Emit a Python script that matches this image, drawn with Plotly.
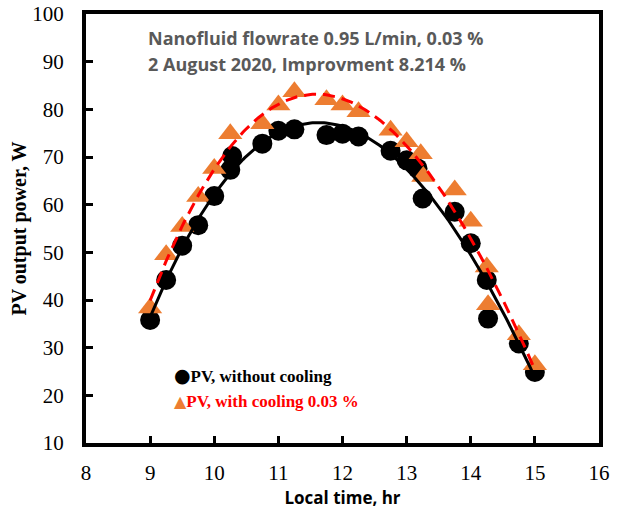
import numpy as np
import plotly.graph_objects as go

# Without cooling (black circles)
t_nc = [9.0, 9.25, 9.5, 9.75, 10.0, 10.25, 10.28, 10.75, 11.0, 11.25, 11.75, 12.0, 12.25,
        12.75, 13.0, 13.17, 13.25, 13.75, 14.0, 14.25, 14.27, 14.75, 15.0]
p_nc = [35.8, 44.2, 51.4, 55.7, 61.8, 67.3, 70.2, 72.8, 75.5, 75.8, 74.6, 74.9, 74.3,
        71.3, 69.3, 67.6, 61.3, 58.5, 51.9, 44.2, 36.1, 30.9, 24.9]

# With cooling 0.03 % (orange triangles)
t_wc = [9.0, 9.25, 9.5, 9.75, 10.0, 10.25, 10.75, 11.0, 11.25, 11.75, 12.0, 12.25,
        12.75, 13.0, 13.22, 13.26, 13.75, 14.0, 14.25, 14.27, 14.75, 15.0]
p_wc = [38.3, 49.5, 55.4, 61.7, 67.6, 74.9, 77.0, 80.9, 83.7, 82.0, 80.9, 79.5,
        75.6, 73.2, 70.7, 65.9, 63.1, 56.5, 46.9, 39.0, 32.7, 26.4]

x_ticks = [8, 9, 10, 11, 12, 13, 14, 15, 16]
y_ticks = [10, 20, 30, 40, 50, 60, 70, 80, 90, 100]

# polynomial trendlines computed from the data
xf = np.linspace(9, 15, 200)
fit_nc = np.polyval(np.polyfit(t_nc, p_nc, 3), xf)
fit_wc = np.polyval(np.polyfit(t_wc, p_wc, 3), xf)

fig = go.Figure()
fig.add_trace(go.Scatter(x=t_nc, y=p_nc, mode="markers",
                         marker=dict(symbol="circle", size=20, color="black"),
                         name="PV, without cooling", showlegend=False))
fig.add_trace(go.Scatter(x=t_wc, y=p_wc, mode="markers",
                         marker=dict(symbol="triangle-up", size=21, color="#ED7D31"),
                         name="PV, with cooling 0.03 %", showlegend=False))
fig.add_trace(go.Scatter(x=xf, y=fit_nc, mode="lines", line=dict(color="black", width=3),
                         showlegend=False, hoverinfo="skip"))
fig.add_trace(go.Scatter(x=xf, y=fit_wc, mode="lines",
                         line=dict(color="#FF0000", width=3, dash="12px,7px"),
                         showlegend=False, hoverinfo="skip"))

note_font = dict(family="Open Sans", size=18, color="#595959", weight="bold")
fig.add_annotation(x=0.117, y=0.944, xref="paper", yref="paper", xanchor="left", yanchor="middle",
                   text="Nanofluid flowrate 0.95 L/min, 0.03 %", showarrow=False, font=note_font)
fig.add_annotation(x=0.117, y=0.883, xref="paper", yref="paper", xanchor="left", yanchor="middle",
                   text="2 August 2020, Improvment 8.214 %", showarrow=False, font=note_font)

# legend drawn as text entries
leg_font = dict(family="Liberation Serif", size=17, color="black", weight="bold")
fig.add_annotation(x=0.168, y=0.1585, xref="paper", yref="paper", xanchor="left", yanchor="middle",
                   text="<span style='font-family:DejaVu Sans;font-size:19px'>●</span>PV, without cooling",
                   showarrow=False, font=leg_font)
fig.add_annotation(x=0.168, y=0.0956, xref="paper", yref="paper", xanchor="left", yanchor="middle",
                   text="<span style='font-family:DejaVu Sans;font-size:16px;fill:#ED7D31'>▲</span>"
                        "<span style='fill:#FF0000'>PV, with cooling 0.03 %</span>",
                   showarrow=False, font=dict(leg_font, color="#FF0000"))

fig.update_layout(
    width=622, height=514,
    margin=dict(l=86, r=23, t=14, b=71),
    paper_bgcolor="white", plot_bgcolor="white",
    showlegend=False,
    xaxis=dict(range=[8, 16], tickvals=x_ticks, ticks="inside", ticklen=7, tickwidth=2.5,
               tickcolor="black", showgrid=False, zeroline=False, automargin=False,
               showline=True, linecolor="black", linewidth=4, mirror=True,
               ticklabelstandoff=8,
               tickfont=dict(family="Liberation Serif", size=21, color="black"),
               title=dict(text="Local time, hr", standoff=9,
                          font=dict(family="Open Sans", size=17, color="black", weight="bold"))),
    yaxis=dict(range=[10, 100], tickvals=y_ticks, ticks="inside", ticklen=7, tickwidth=2.5,
               tickcolor="black", showgrid=False, zeroline=False, automargin=False,
               showline=True, linecolor="black", linewidth=4, mirror=True,
               ticklabelstandoff=14,
               tickfont=dict(family="Liberation Serif", size=21, color="black"),
               title=dict(text="PV output power, W", standoff=1,
                          font=dict(family="Liberation Serif", size=20, color="black", weight="bold"))),
)

fig.write_html("out.html", config={"displayModeBar": False},
               post_script="document.body.style.margin='0';document.body.style.overflow='hidden';")
